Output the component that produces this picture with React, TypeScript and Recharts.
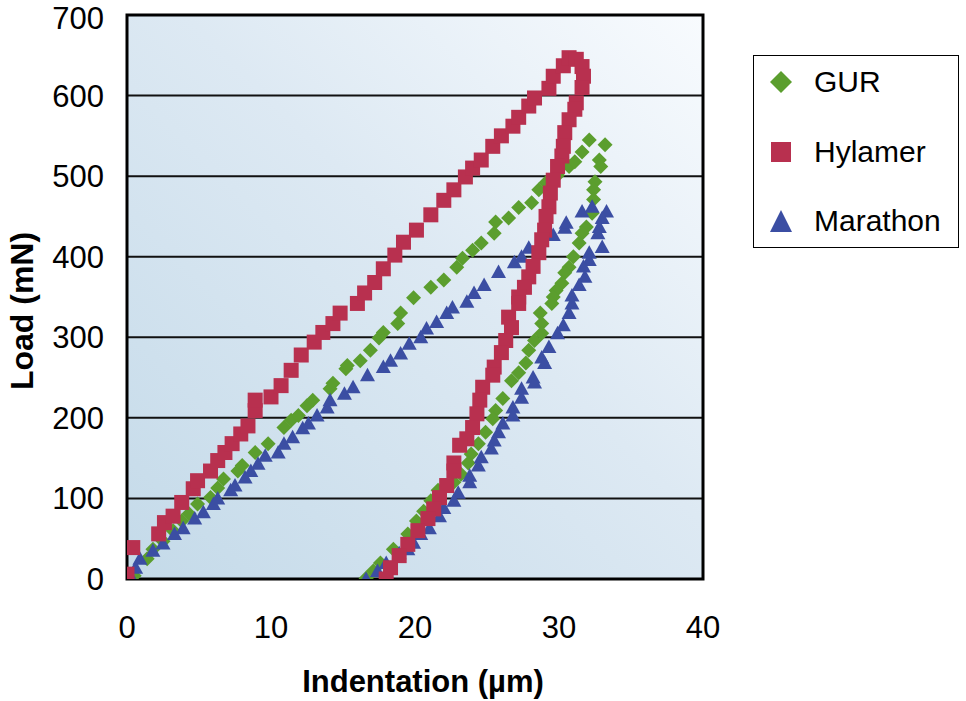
import React from 'react';
import { ScatterChart, Scatter, XAxis, YAxis, CartesianGrid, ReferenceArea, Label } from 'recharts';

const xTicks = [0, 10, 20, 30, 40];
const yTicks = [0, 100, 200, 300, 400, 500, 600, 700];
const seriesNames = ['GUR', 'Hylamer', 'Marathon'];

const gurX = [0.5, 1.4, 1.8, 2.5, 3.2, 3.8, 4.3, 4.9, 5.8, 6.3, 6.7, 7.7, 8.0, 8.9, 9.8, 10.9, 11.4, 11.9, 12.5, 12.9, 14.1, 14.3, 15.2, 15.3, 16.2, 16.9, 17.5, 17.8, 18.8, 19.0, 19.9, 21.1, 22.0, 22.9, 23.3, 24.0, 24.6, 25.5, 25.6, 26.5, 27.2, 28.1, 28.6, 29.1, 29.9, 30.7, 31.1, 31.6, 32.1,
  33.2, 32.8, 32.9, 32.5, 32.4, 32.4, 32.3, 31.9, 31.6, 31.4, 31.0, 30.7, 30.4, 30.2, 29.8, 29.6, 29.5, 28.7, 28.8, 28.8, 28.3, 27.9, 27.7, 27.2, 26.7, 26.1, 25.6, 25.4, 24.9, 24.4, 23.9, 23.7, 23.2, 22.7, 21.6, 21.1, 20.6, 20.1, 19.5, 18.5, 17.6, 17.1, 16.6];
const gurY = [4, 25, 37, 47, 60, 72, 81, 93, 101, 113, 124, 134, 141, 157, 168, 188, 197, 203, 215, 222, 236, 243, 261, 265, 271, 284, 299, 306, 317, 330, 349, 362, 371, 387, 398, 408, 417, 429, 443, 448, 461, 467, 483, 492, 501, 512, 518, 530, 545,
  539, 520, 512, 493, 483, 471, 454, 437, 429, 417, 400, 387, 380, 367, 358, 350, 342, 330, 317, 305, 296, 284, 268, 256, 246, 224, 209, 199, 182, 168, 155, 144, 130, 120, 110, 97, 84, 72, 56, 37, 20, 10, 1];

const hylamerX = [0.0, 0.4, 2.2, 2.6, 3.2, 3.8, 4.6, 4.9, 5.8, 6.3, 6.8, 7.3, 7.9, 8.4, 8.9, 8.9, 10.0, 10.7, 11.4, 12.1, 13.0, 13.6, 14.3, 14.8, 16.0, 16.5, 17.2, 17.8, 18.6, 19.2, 20.1, 21.1, 22.0, 22.7, 23.5, 24.0, 24.6, 25.4, 26.0, 26.8, 27.2, 27.9, 28.3, 29.3, 29.6, 30.3, 30.7,
  31.2, 31.6, 31.7, 31.6, 31.2, 31.1, 30.7, 30.4, 30.3, 30.2, 29.9, 29.6, 29.4, 29.3, 29.1, 29.0, 28.8, 28.6, 28.2, 27.9, 27.6, 27.2, 27.2, 26.5, 26.7, 26.3, 26.0, 25.5, 25.4, 24.7, 24.5, 24.3, 24.0, 23.6, 23.1, 22.7, 22.7, 22.2, 21.7, 21.3, 20.9, 20.2, 19.5, 18.9, 18.3, 18.0];
const hylamerY = [6, 39, 56, 70, 78, 95, 112, 122, 134, 147, 157, 168, 180, 190, 209, 222, 226, 240, 259, 278, 294, 306, 317, 330, 342, 355, 368, 385, 402, 418, 433, 452, 470, 483, 499, 510, 520, 537, 550, 562, 573, 587, 597, 609, 624, 637, 647,
  645, 636, 624, 610, 591, 583, 570, 554, 537, 525, 512, 495, 479, 462, 450, 433, 421, 405, 388, 375, 362, 350, 342, 325, 312, 296, 281, 263, 253, 238, 222, 205, 188, 174, 166, 144, 134, 116, 101, 87, 75, 60, 43, 29, 14, 0];

const marathonX = [0.2, 0.6, 0.9, 1.8, 2.5, 3.3, 3.9, 4.7, 5.3, 6.0, 6.3, 7.2, 7.5, 8.2, 8.6, 9.1, 9.6, 10.5, 10.9, 11.5, 12.2, 12.6, 13.2, 13.9, 14.1, 15.1, 15.7, 16.7, 17.8, 18.3, 19.0, 19.6, 20.4, 20.8, 21.5, 22.2, 22.6, 23.6, 24.1, 24.8, 25.8, 26.9, 27.4, 27.9, 28.8, 29.6, 30.4, 30.5, 31.6, 32.3,
  33.3, 33.0, 32.8, 32.7, 33.0, 32.1, 32.1, 31.7, 31.8, 31.4, 30.9, 30.9, 30.7, 30.3, 29.9, 29.3, 28.8, 29.0, 28.2, 28.3, 27.4, 27.4, 26.8, 26.8, 26.1, 25.8, 25.5, 25.3, 24.6, 24.4, 23.8, 23.8, 23.0, 22.7, 22.0, 21.7, 21.0, 20.4, 19.9, 19.5, 18.9, 18.0, 17.4, 16.6];
const marathonY = [5, 14, 25, 35, 44, 56, 63, 75, 83, 93, 100, 110, 116, 126, 134, 143, 153, 157, 168, 176, 187, 193, 203, 213, 222, 230, 238, 253, 263, 271, 280, 292, 300, 311, 319, 330, 337, 344, 355, 365, 381, 393, 400, 411, 420, 427, 436, 442, 456, 462,
  456, 448, 437, 429, 412, 405, 396, 388, 375, 365, 352, 342, 330, 315, 305, 288, 275, 268, 250, 244, 236, 225, 213, 203, 193, 182, 172, 162, 151, 141, 128, 120, 107, 97, 88, 78, 63, 56, 45, 37, 32, 20, 10, 0];

const zip = (xs: number[], ys: number[]) => xs.map((x, i) => ({ x, y: ys[i] }));
const gurData = zip(gurX, gurY);
const hylamerData = zip(hylamerX, hylamerY);
const marathonData = zip(marathonX, marathonY);

const GREEN = '#5b9e2e';
const RED = '#b8304f';
const BLUE = '#3b4ea3';
const FONT = '"Liberation Sans", Arial, Helvetica, sans-serif';

const DiamondShape = (p: any) => {
  const { cx, cy } = p;
  const r = 7.5;
  return <polygon points={`${cx},${cy - r} ${cx + r},${cy} ${cx},${cy + r} ${cx - r},${cy}`} fill={GREEN} />;
};
const SquareShape = (p: any) => {
  const { cx, cy } = p;
  const s = 15;
  return <rect x={cx - s / 2} y={cy - s / 2} width={s} height={s} fill={RED} />;
};
const TriangleShape = (p: any) => {
  const { cx, cy } = p;
  return <polygon points={`${cx},${cy - 7.5} ${cx + 7.5},${cy + 6} ${cx - 7.5},${cy + 6}`} fill={BLUE} />;
};

const legendIcon = (i: number) => {
  if (i === 0) return <polygon points="11,0 22,11 11,22 0,11" fill={GREEN} />;
  if (i === 1) return <rect x={1} y={1} width={20} height={20} fill={RED} />;
  return <polygon points="11,0 22,22 0,22" fill={BLUE} />;
};

const legendCenters = [82, 152, 221];

export default function App() {
  return (
    <div style={{ position: 'absolute', left: 0, top: 0, width: 966, height: 701, background: '#fff', fontFamily: FONT }}>
      <ScatterChart width={966} height={701} margin={{ top: 15, right: 263, bottom: 0, left: 0 }}>
        <defs>
          <linearGradient id="plotBg" x1="0" y1="1" x2="1" y2="0">
            <stop offset="0%" stopColor="#c4dae9" />
            <stop offset="55%" stopColor="#dde9f3" />
            <stop offset="100%" stopColor="#f8fbfe" />
          </linearGradient>
        </defs>
        <CartesianGrid vertical={false} stroke="#111" strokeWidth={2} fill="url(#plotBg)" fillOpacity={1} />
        <XAxis
          type="number"
          dataKey="x"
          domain={[0, 40]}
          ticks={xTicks}
          height={122}
          axisLine={false}
          tickLine={false}
          tickSize={0}
          tickMargin={37}
          tick={{ fontSize: 31, fill: '#000', fontFamily: FONT }}
          allowDataOverflow
        >
          <Label
            content={() => (
              <text x={423} y={692} textAnchor="middle" fontSize={31} fontWeight="bold" fontFamily={FONT} fill="#000">
                Indentation (µm)
              </text>
            )}
          />
        </XAxis>
        <YAxis
          type="number"
          dataKey="y"
          domain={[0, 700]}
          ticks={yTicks}
          width={127}
          axisLine={false}
          tickLine={false}
          tickSize={0}
          tickMargin={23}
          tick={{ fontSize: 31, fill: '#000', fontFamily: FONT }}
          allowDataOverflow
        >
          <Label
            content={() => (
              <text x={33} y={311} transform="rotate(-90 33 311)" textAnchor="middle" fontSize={32} fontWeight="bold" fontFamily={FONT} fill="#000">
                Load (mN)
              </text>
            )}
          />
        </YAxis>
        <ReferenceArea x1={0} x2={40} y1={0} y2={700} fill="none" stroke="#000" strokeWidth={3} ifOverflow="visible" />
        <Scatter name={seriesNames[0]} data={gurData} shape={DiamondShape} isAnimationActive={false} />
        <Scatter name={seriesNames[2]} data={marathonData} shape={TriangleShape} isAnimationActive={false} />
        <Scatter name={seriesNames[1]} data={hylamerData} shape={SquareShape} isAnimationActive={false} />
      </ScatterChart>
      <div
        style={{
          position: 'absolute',
          left: 753,
          top: 55,
          width: 206,
          height: 193,
          border: '1.5px solid #000',
          background: '#fff',
          boxSizing: 'border-box',
        }}
      >
        {seriesNames.map((n, i) => (
          <div key={n} style={{ position: 'absolute', left: 0, top: legendCenters[i] - 55 - 1.5, height: 0 }}>
            <svg width={22} height={22} style={{ position: 'absolute', left: 16, top: -11 }}>
              {legendIcon(i)}
            </svg>
            <span style={{ position: 'absolute', left: 60, top: -18, fontSize: 30, lineHeight: '36px', whiteSpace: 'nowrap', color: '#000' }}>{n}</span>
          </div>
        ))}
      </div>
    </div>
  );
}
